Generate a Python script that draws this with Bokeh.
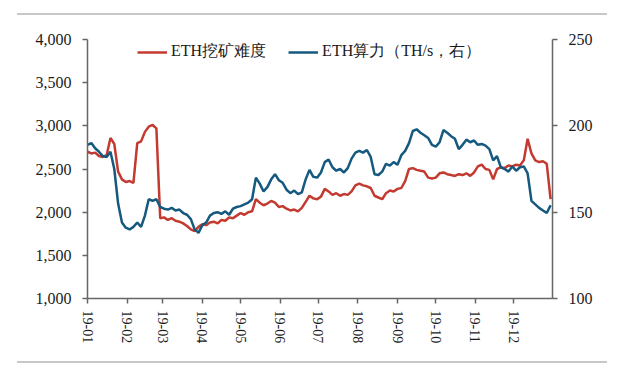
import pandas as pd
from bokeh.plotting import figure
from bokeh.models import (Range1d, LinearAxis, FixedTicker, NumeralTickFormatter,
                          DatetimeTickFormatter, Legend, LegendItem, InlineStyleSheet)
from bokeh.embed import file_html
from bokeh.resources import INLINE

# ---- data (sampled every 3 days from 2019-01-01) ----
start_date = "2019-01-01"
step = "3D"
difficulty = [2700, 2680, 2690, 2650, 2640, 2660, 2860, 2790, 2470, 2380,
              2350, 2360, 2340, 2800, 2820, 2930, 2990, 3010, 2970, 1930,
              1940, 1910, 1930, 1900, 1890, 1870, 1840, 1800, 1780, 1830,
              1860, 1850, 1880, 1890, 1870, 1910, 1900, 1940, 1930, 1960,
              1990, 1970, 2000, 2010, 2150, 2110, 2080, 2100, 2130, 2110,
              2060, 2070, 2040, 2020, 2030, 2010, 2050, 2120, 2190, 2160,
              2150, 2180, 2270, 2240, 2200, 2220, 2190, 2210, 2200, 2240,
              2310, 2330, 2310, 2300, 2280, 2190, 2170, 2150, 2220, 2250,
              2240, 2270, 2280, 2360, 2500, 2510, 2490, 2480, 2470, 2400,
              2390, 2400, 2450, 2460, 2440, 2430, 2420, 2440, 2430, 2450,
              2420, 2460, 2530, 2550, 2500, 2490, 2380, 2500, 2520, 2510,
              2540, 2530, 2550, 2540, 2600, 2850, 2680, 2600, 2580, 2590,
              2560, 2150]
hashrate = [189, 190, 187, 185, 182.5, 182, 185, 175, 155, 144,
            141, 140, 141.5, 144, 141.5, 148, 157.5, 156.5, 157.5, 153,
            152, 151.5, 152.5, 151, 151.5, 149.5, 148.5, 146, 140, 138,
            142.5, 144, 148, 149.5, 150, 149, 150.5, 148.5, 152, 153,
            153.5, 154.5, 155.5, 157.5, 170, 166.5, 162, 164.5, 169, 172,
            168.5, 167, 163, 161, 162.5, 160.5, 161.5, 169, 174.5, 170.5,
            170, 173, 179, 180.5, 176, 174, 175, 173, 175.5, 181,
            184.5, 185.5, 184.5, 186, 182, 172, 171.5, 173.5, 178, 177,
            179, 177.5, 183, 185.5, 190, 197, 198, 196, 194.5, 193,
            189, 188, 190.5, 197.5, 196, 194, 192.5, 186.5, 189, 192,
            190.5, 191.5, 189, 189.5, 188.5, 186.5, 180, 182.5, 176, 175,
            173.5, 176.5, 174, 176, 176.5, 172.5, 156.5, 154.5, 152.5, 151,
            149.5, 154]
left_ticks = [1000, 1500, 2000, 2500, 3000, 3500, 4000]
right_ticks = [100, 150, 200, 250]
month_starts = pd.date_range("2019-01-01", periods=12, freq="MS")
series_names = ["ETH挖矿难度", "ETH算力（TH/s，右）"]

RED = "#C23A30"
BLUE = "#15597E"
AXIS = "#666666"
FONT = "Liberation Serif"

dates = pd.date_range(start_date, periods=len(difficulty), freq=step)

x_start = pd.Timestamp("2019-01-01")
x_end = x_start + pd.Timedelta(days=364.5)

p = figure(width=632, height=369, output_backend="svg", toolbar_location=None,
           x_axis_type="datetime",
           x_range=Range1d(x_start, x_end), y_range=Range1d(1000, 4000),
           min_border_left=87, min_border_right=80, min_border_top=39,
           min_border_bottom=71)
p.outline_line_color = None
p.grid.visible = False
p.background_fill_color = "white"
p.border_fill_color = "white"

p.extra_y_ranges = {"hash": Range1d(100, 250)}

r1 = p.line(dates, difficulty, line_color=RED, line_width=2.5)
r2 = p.line(dates, hashrate, line_color=BLUE, line_width=2.5, y_range_name="hash")

# left axis
ya = p.yaxis[0]
ya.ticker = FixedTicker(ticks=left_ticks)
ya.formatter = NumeralTickFormatter(format="0,0")

# right axis
ra = LinearAxis(y_range_name="hash", ticker=FixedTicker(ticks=right_ticks))
p.add_layout(ra, "right")

# x axis
xa = p.xaxis[0]
xa.ticker = FixedTicker(ticks=[t.timestamp() * 1000 for t in month_starts])
fmt = "%y-%m"
xa.formatter = DatetimeTickFormatter(microseconds=fmt, milliseconds=fmt, seconds=fmt,
                                     minsec=fmt, minutes=fmt, hourmin=fmt, hours=fmt,
                                     days=fmt, months=fmt, years=fmt)
xa.major_label_orientation = "vertical"

for ax in [ya, ra, xa]:
    ax.axis_line_color = AXIS
    ax.axis_line_width = 1.5
    ax.major_tick_line_color = AXIS
    ax.major_tick_line_width = 1.5
    ax.major_tick_in = 0
    ax.major_tick_out = 5
    ax.minor_tick_line_color = None
    ax.major_label_text_font = FONT
    ax.major_label_text_color = "#1a1a1a"
    ax.major_label_text_font_size = "16px"
    ax.major_label_standoff = 11
xa.major_label_text_font_size = "14px"
xa.major_label_standoff = 7

legend = Legend(items=[LegendItem(label=series_names[0], renderers=[r1]),
                       LegendItem(label=series_names[1], renderers=[r2])],
                orientation="horizontal", location=(50, 236),
                padding=0, margin=0, spacing=22,
                glyph_width=30, glyph_height=18, label_height=18, label_standoff=4,
                label_text_font=FONT, label_text_font_size="16px",
                label_text_color="#1a1a1a",
                border_line_color=None, background_fill_alpha=0)
p.add_layout(legend, "center")

# separator rules above and below the chart
p.stylesheets = [InlineStyleSheet(css="""
:host::before { content: ""; position: absolute; left: 17px; top: 13px;
  width: 590px; height: 2px; background: #c8c8c8; z-index: 10; }
:host::after { content: ""; position: absolute; left: 17px; top: 361px;
  width: 590px; height: 2px; background: #c8c8c8; z-index: 10; }
""")]

open("out.html", "w").write(file_html(p, INLINE))
